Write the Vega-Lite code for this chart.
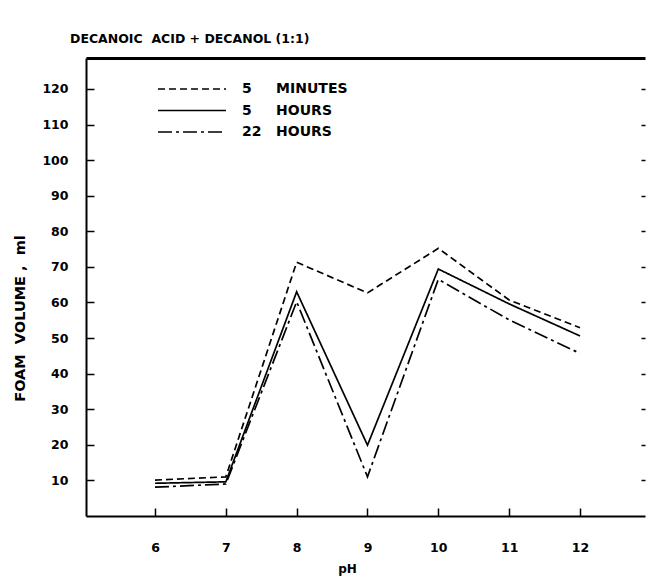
{
  "$schema": "https://vega.github.io/schema/vega-lite/v6.json",
  "width": 559,
  "height": 458,
  "autosize": {"type": "none"},
  "padding": {"left": 86, "top": 58, "right": 1, "bottom": 62},
  "background": "white",
  "config": {
    "view": {"stroke": null},
    "font": "DejaVu Sans",
    "axis": {
      "labelFont": "DejaVu Sans",
      "labelFontWeight": "bold",
      "labelFontSize": 12.5,
      "labelColor": "black",
      "titleFont": "DejaVu Sans",
      "titleFontWeight": "bold",
      "titleColor": "black",
      "domainColor": "black",
      "tickColor": "black",
      "grid": false
    }
  },
  "title": {
    "text": "DECANOIC\u00a0\u00a0ACID + DECANOL (1:1)",
    "anchor": "start",
    "frame": "group",
    "dx": -16,
    "offset": 13,
    "font": "DejaVu Sans",
    "fontSize": 12.5,
    "fontWeight": "bold",
    "color": "black"
  },
  "data": {
    "values": [
      {"pH": 6, "foam": 10.1, "series": "5\u00a0\u00a0\u00a0\u00a0\u00a0MINUTES"},
      {"pH": 7, "foam": 11.0, "series": "5\u00a0\u00a0\u00a0\u00a0\u00a0MINUTES"},
      {"pH": 8, "foam": 71.3, "series": "5\u00a0\u00a0\u00a0\u00a0\u00a0MINUTES"},
      {"pH": 9, "foam": 62.7, "series": "5\u00a0\u00a0\u00a0\u00a0\u00a0MINUTES"},
      {"pH": 10, "foam": 75.2, "series": "5\u00a0\u00a0\u00a0\u00a0\u00a0MINUTES"},
      {"pH": 11, "foam": 60.7, "series": "5\u00a0\u00a0\u00a0\u00a0\u00a0MINUTES"},
      {"pH": 12, "foam": 52.9, "series": "5\u00a0\u00a0\u00a0\u00a0\u00a0MINUTES"},
      {"pH": 6, "foam": 9.2, "series": "5\u00a0\u00a0\u00a0\u00a0\u00a0HOURS"},
      {"pH": 7, "foam": 9.6, "series": "5\u00a0\u00a0\u00a0\u00a0\u00a0HOURS"},
      {"pH": 8, "foam": 63.0, "series": "5\u00a0\u00a0\u00a0\u00a0\u00a0HOURS"},
      {"pH": 9, "foam": 19.9, "series": "5\u00a0\u00a0\u00a0\u00a0\u00a0HOURS"},
      {"pH": 10, "foam": 69.4, "series": "5\u00a0\u00a0\u00a0\u00a0\u00a0HOURS"},
      {"pH": 11, "foam": 59.6, "series": "5\u00a0\u00a0\u00a0\u00a0\u00a0HOURS"},
      {"pH": 12, "foam": 50.6, "series": "5\u00a0\u00a0\u00a0\u00a0\u00a0HOURS"},
      {"pH": 6, "foam": 8.1, "series": "22\u00a0\u00a0\u00a0HOURS"},
      {"pH": 7, "foam": 9.0, "series": "22\u00a0\u00a0\u00a0HOURS"},
      {"pH": 8, "foam": 60.2, "series": "22\u00a0\u00a0\u00a0HOURS"},
      {"pH": 9, "foam": 11.0, "series": "22\u00a0\u00a0\u00a0HOURS"},
      {"pH": 10, "foam": 66.5, "series": "22\u00a0\u00a0\u00a0HOURS"},
      {"pH": 11, "foam": 55.1, "series": "22\u00a0\u00a0\u00a0HOURS"},
      {"pH": 12, "foam": 45.7, "series": "22\u00a0\u00a0\u00a0HOURS"}
    ]
  },
  "layer": [
    {
      "mark": {"type": "line", "color": "black", "strokeWidth": 1.7, "clip": true},
      "encoding": {
        "x": {
          "field": "pH", "type": "quantitative",
          "scale": {"domain": [5.026, 12.918], "nice": false, "zero": false},
          "axis": {
            "orient": "bottom",
            "values": [6, 7, 8, 9, 10, 11, 12],
            "tickSize": -8,
            "tickWidth": 1.5,
            "domainWidth": 2,
            "labelPadding": 33,
            "title": "pH",
            "titleFontSize": 12,
            "titleX": 261,
            "titleY": 52,
            "titleBaseline": "middle"
          }
        },
        "y": {
          "field": "foam", "type": "quantitative",
          "scale": {"domain": [0, 128.7], "nice": false},
          "axis": {
            "orient": "left",
            "values": [10, 20, 30, 40, 50, 60, 70, 80, 90, 100, 110, 120],
            "tickSize": -8,
            "tickWidth": 1.5,
            "domainWidth": 2,
            "labelPadding": 26,
            "title": "FOAM\u00a0\u00a0VOLUME\u00a0,\u00a0\u00a0ml",
            "titleFontSize": 14.5,
            "titleX": -66,
            "titleY": 260,
            "titleAngle": -90,
            "titleAlign": "center",
            "titleBaseline": "middle"
          }
        },
        "strokeDash": {
          "field": "series", "type": "nominal",
          "scale": {
            "domain": ["5\u00a0\u00a0\u00a0\u00a0\u00a0MINUTES", "5\u00a0\u00a0\u00a0\u00a0\u00a0HOURS", "22\u00a0\u00a0\u00a0HOURS"],
            "range": [[7, 4], [1, 0], [14, 4, 3, 4]]
          },
          "legend": {
            "orient": "none",
            "legendX": 71,
            "legendY": 23,
            "title": null,
            "symbolType": "stroke",
            "symbolSize": 4624,
            "symbolStrokeColor": "black",
            "symbolStrokeWidth": 1.7,
            "clipHeight": 16,
            "rowPadding": 5.5,
            "labelOffset": 15,
            "labelFont": "DejaVu Sans",
            "labelFontWeight": "bold",
            "labelFontSize": 14,
            "labelColor": "black",
            "labelLimit": 300
          }
        }
      }
    },
    {
      "mark": {"type": "point", "opacity": 0},
      "encoding": {
        "x": {
          "field": "pH", "type": "quantitative",
          "scale": {"domain": [5.026, 12.918], "nice": false, "zero": false},
          "axis": {
            "orient": "top",
            "ticks": false,
            "labels": false,
            "title": null,
            "domainWidth": 3
          }
        },
        "y": {
          "field": "foam", "type": "quantitative",
          "scale": {"domain": [0, 128.7], "nice": false},
          "axis": {
            "orient": "right",
            "values": [10, 20, 30, 40, 50, 60, 70, 80, 90, 100, 110, 120],
            "domain": false,
            "labels": false,
            "title": null,
            "tickSize": -4,
            "tickWidth": 1.5
          }
        }
      }
    }
  ],
  "resolve": {"axis": {"x": "independent", "y": "independent"}}
}
